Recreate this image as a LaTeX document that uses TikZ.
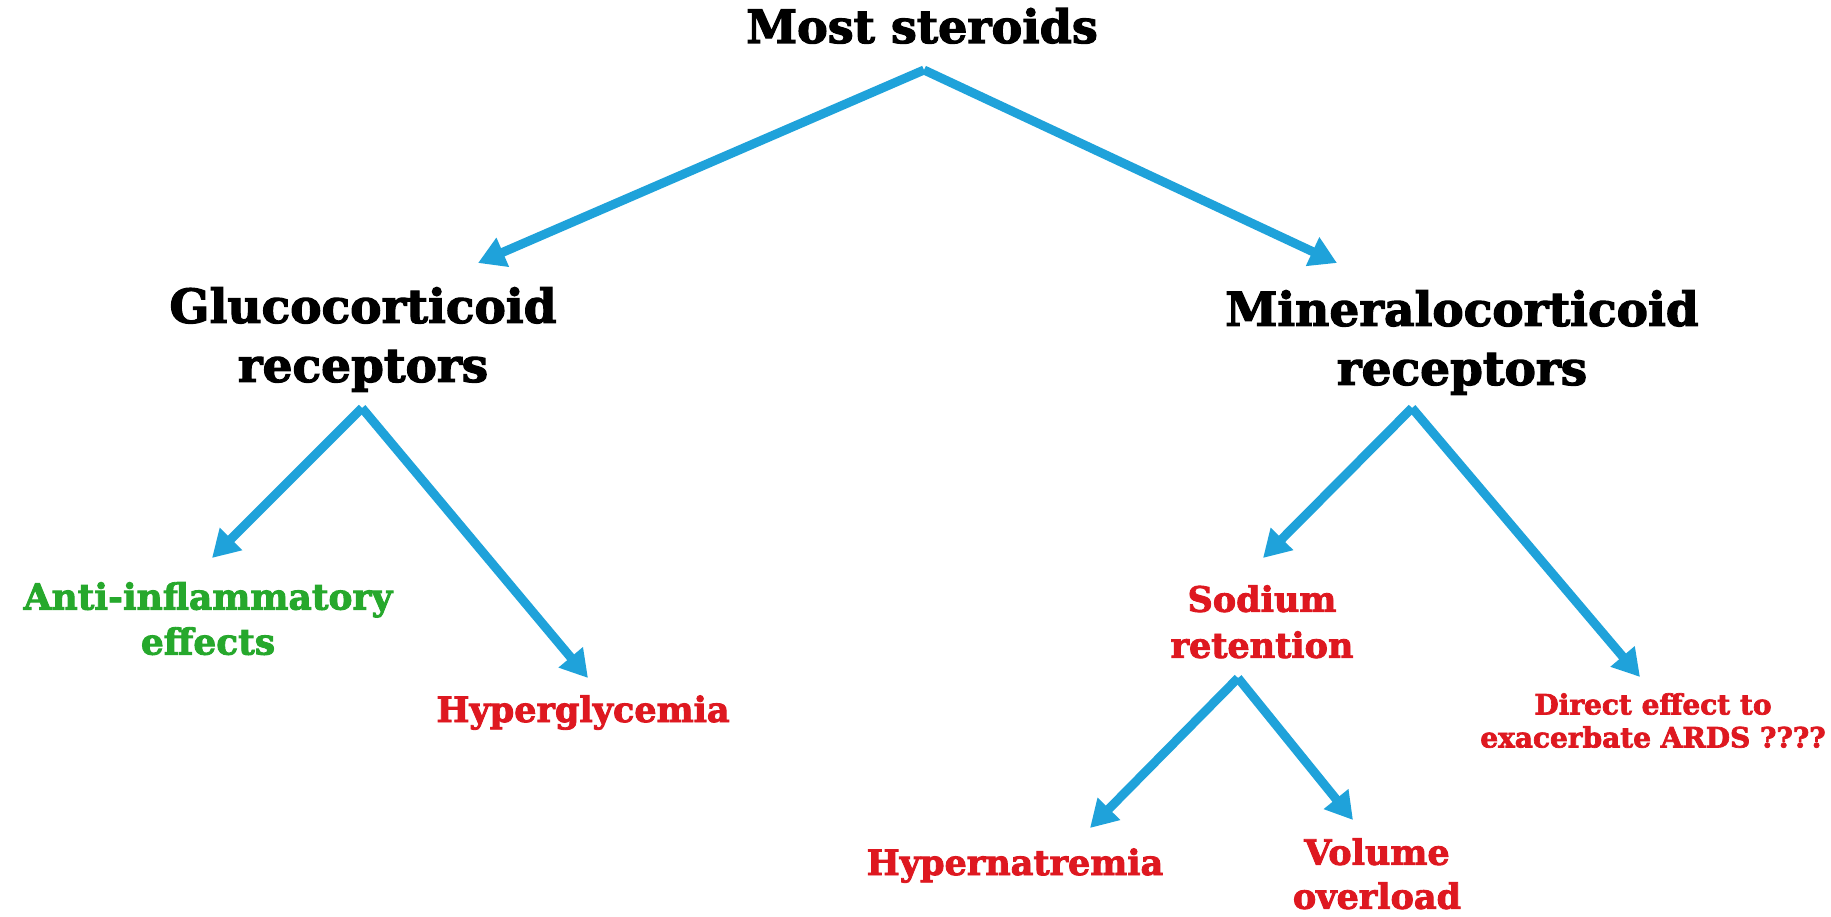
\documentclass[tikz,border=0pt]{standalone}
\usepackage{fontspec}
\setmainfont{DejaVu Serif}[BoldFeatures={FakeBold=2.5}]
\usetikzlibrary{arrows.meta}

\definecolor{arrowblue}{RGB}{31,162,218}
\definecolor{badred}{RGB}{222,24,32}
\definecolor{goodgreen}{RGB}{38,168,44}

\begin{document}
\begin{tikzpicture}[
  x=1pt,y=-1pt,
  head/.style={inner sep=0pt,align=center,text=black,font=\bfseries\fontsize{46}{59}\selectfont},
  recp/.style={inner sep=0pt,align=center,text=black,font=\bfseries\fontsize{47}{59}\selectfont},
  bad/.style={inner sep=0pt,align=center,text=badred,font=\bfseries\fontsize{35}{46}\selectfont},
  good/.style={inner sep=0pt,align=center,text=goodgreen,font=\bfseries\fontsize{36}{45}\selectfont},
  note/.style={inner sep=0pt,align=center,text=badred,font=\bfseries\fontsize{28}{33}\selectfont},
  ar/.style={draw=arrowblue,line width=9pt,-{Triangle[length=27pt,width=30pt]}}
]
\useasboundingbox (0,0) rectangle (1831,917);

\node[head,anchor=base] (steroids) at (922,43) {Most steroids};

% ---- receptors ----
\node[recp,anchor=north] (gluco) at (363,287) {Glucocorticoid\\receptors};
\node[recp,anchor=north] (mineral) at (1462,290) {Mineralocorticoid\\receptors};

% ---- glucocorticoid effects ----
\node[good,anchor=north] (antiinf) at (208,582) {Anti-inflammatory\\effects};
\node[bad,anchor=base] (hyperglyc) at (583,722) {Hyperglycemia};

% ---- mineralocorticoid effects ----
\node[bad,anchor=north] (sodium) at (1262,585) {Sodium\\retention};
\node[note,anchor=north] (ards) at (1653,693) {Direct effect to\\exacerbate ARDS ????};
\node[bad,anchor=base] (hypernat) at (1015,875) {Hypernatremia};
\node[bad,anchor=north,font=\bfseries\fontsize{35}{44}\selectfont] (volume) at (1377,838) {Volume\\overload};

% forks and tips
\coordinate (topfork) at (924,70);
\coordinate (glucotip) at (478,263);
\coordinate (mineraltip) at (1337,263);
\coordinate (glucofork) at (362,408);
\coordinate (antitip) at (212,558);
\coordinate (glyctip) at (588,678);
\coordinate (mineralfork) at (1412,408);
\coordinate (sodiumtip) at (1263,558);
\coordinate (ardstip) at (1640,677);
\coordinate (sodiumfork) at (1238,678);
\coordinate (nattip) at (1090,828);
\coordinate (voltip) at (1353,820);

% wires
\draw[ar] (topfork) -- (glucotip);
\draw[ar] (topfork) -- (mineraltip);
\draw[ar] (glucofork) -- (antitip);
\draw[ar] (glucofork) -- (glyctip);
\draw[ar] (mineralfork) -- (sodiumtip);
\draw[ar] (mineralfork) -- (ardstip);
\draw[ar] (sodiumfork) -- (nattip);
\draw[ar] (sodiumfork) -- (voltip);
\end{tikzpicture}
\end{document}
